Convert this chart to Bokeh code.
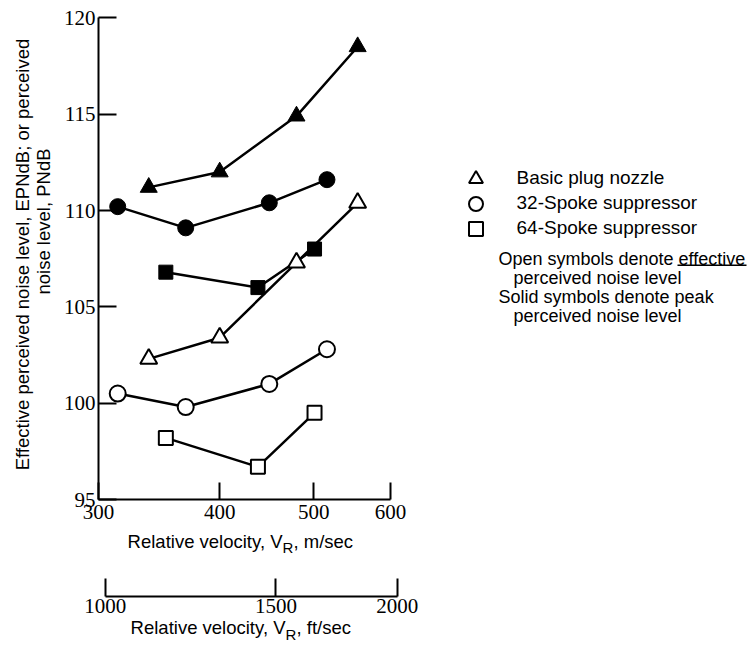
import math

from bokeh.embed import file_html
from bokeh.models import (BasicTickFormatter, BoxAnnotation, FixedTicker, Label,
                          Legend, LegendItem, LinearAxis, LogAxis, LogScale, Range1d)
from bokeh.plotting import figure
from bokeh.resources import INLINE

# Relative velocity (m/sec) and noise levels (EPNdB open, PNdB solid)
vel_basic = [338, 400, 480, 555]
epndb_basic = [102.3, 103.4, 107.3, 110.4]
pndb_basic = [111.2, 112.0, 114.9, 118.5]

vel_32 = [314, 369, 450, 516]
epndb_32 = [100.5, 99.8, 101.0, 102.8]
pndb_32 = [110.2, 109.1, 110.4, 111.6]

vel_64 = [352, 438, 501]
epndb_64 = [98.2, 96.7, 99.5]
pndb_64 = [106.8, 106.0, 108.0]

ms_ticks = [300, 400, 500, 600]
fts_ticks = [1000, 1500, 2000]
db_ticks = [95, 100, 105, 110, 115, 120]

legend_names = ["Basic plug nozzle", "32-Spoke suppressor", "64-Spoke suppressor"]

W, H = 750, 650
X0_PX = 98.0          # pixel where 300 m/sec sits
PX_PER_DECADE = 970.0
Y120_PX = 17.3
PX_PER_DB = 19.27
FT_PER_M = 1 / 0.3048

x_start = 300 * 10 ** (-X0_PX / PX_PER_DECADE)
x_end = 300 * 10 ** ((W - X0_PX) / PX_PER_DECADE)
y_top = 120 + Y120_PX / PX_PER_DB
y_bot = 120 - (H - Y120_PX) / PX_PER_DB

TEXT_FONT = "Liberation Sans"
NUM_FONT = "Liberation Sans Narrow"

p = figure(width=W, height=H, x_axis_type="log", x_axis_location=None,
           y_axis_location=None, x_range=Range1d(x_start, x_end),
           y_range=Range1d(y_bot, y_top), min_border=0, toolbar_location=None,
           output_backend="svg", outline_line_color=None)
p.grid.visible = False
p.background_fill_color = "white"
p.border_fill_color = "white"

p.extra_x_ranges = {"ft": Range1d(x_start * FT_PER_M, x_end * FT_PER_M)}
p.extra_x_scales = {"ft": LogScale()}


def style_axis(ax, tick_in, standoff):
    ax.axis_line_width = 2
    ax.axis_line_color = "black"
    ax.major_tick_line_width = 2
    ax.major_tick_line_color = "black"
    ax.major_tick_in = tick_in
    ax.major_tick_out = 0
    ax.minor_tick_line_color = None
    ax.major_label_text_font = NUM_FONT
    ax.major_label_text_font_size = "21px"
    ax.major_label_text_color = "black"
    ax.major_label_standoff = standoff


yaxis = LinearAxis(ticker=FixedTicker(ticks=db_ticks), bounds=(95, 120),
                   fixed_location=300)
style_axis(yaxis, 18, 3)
p.add_layout(yaxis, "left")

xaxis = LogAxis(ticker=FixedTicker(ticks=ms_ticks), bounds=(300, 600),
                fixed_location=95, formatter=BasicTickFormatter(use_scientific=False))
style_axis(xaxis, 17, 5)
p.add_layout(xaxis, "below")

ft_loc = 120 - (596 - Y120_PX) / PX_PER_DB
ftaxis = LogAxis(x_range_name="ft", ticker=FixedTicker(ticks=fts_ticks),
                 bounds=(1000, 2000), fixed_location=ft_loc,
                 formatter=BasicTickFormatter(use_scientific=False))
style_axis(ftaxis, 18, 2)
p.add_layout(ftaxis, "below")

# connecting lines
for v, d in [(vel_basic, pndb_basic), (vel_32, pndb_32), (vel_64, pndb_64),
             (vel_basic, epndb_basic), (vel_32, epndb_32), (vel_64, epndb_64)]:
    p.line(v, d, line_color="black", line_width=2.5)

# peak (solid) symbols
p.scatter(vel_basic, pndb_basic, marker="triangle", size=17, fill_color="black",
          line_color="black", line_width=1)
p.scatter(vel_32, pndb_32, marker="circle", size=16, fill_color="black",
          line_color="black", line_width=1)
p.scatter(vel_64, pndb_64, marker="square", size=14, fill_color="black",
          line_color="black", line_width=1)

# effective (open) symbols
r_tri = p.scatter(vel_basic, epndb_basic, marker="triangle", size=17,
                  fill_color="white", line_color="black", line_width=2)
r_cir = p.scatter(vel_32, epndb_32, marker="circle", size=16,
                  fill_color="white", line_color="black", line_width=2)
r_sq = p.scatter(vel_64, epndb_64, marker="square", size=14,
                 fill_color="white", line_color="black", line_width=2)

# one single-entry legend per nozzle, so the rows can sit close together
GLYPH = 35
for name, rend, yc in zip(legend_names, [r_tri, r_cir, r_sq], [178, 203, 228]):
    leg = Legend(items=[LegendItem(label=name, renderers=[rend])],
                 location=(475 - GLYPH / 2, H - (yc + GLYPH / 2)),
                 glyph_width=GLYPH, glyph_height=GLYPH, padding=0, margin=0,
                 label_standoff=24, label_text_font=TEXT_FONT,
                 label_text_font_size="19px", label_text_color="black",
                 border_line_color=None, background_fill_alpha=0)
    p.add_layout(leg, "center")


def add_text(text, x, y, size="19px", align="left", baseline="alphabetic", angle=0.0):
    p.add_layout(Label(x=x, y=H - y, x_units="screen", y_units="screen", text=text,
                       text_font=TEXT_FONT, text_font_size=size, text_color="black",
                       text_align=align, text_baseline=baseline, angle=angle))


# notes beside the legend
add_text("Open symbols denote", 498, 258, size="18px")
add_text("effective", 678, 258, size="18px")
add_text("perceived noise level", 513, 277, size="18px")
add_text("Solid symbols denote peak", 498, 296, size="18px")
add_text("perceived noise level", 513, 315, size="18px")
p.add_layout(BoxAnnotation(left=677, right=746, bottom=H - 265.5, top=H - 264,
                           left_units="screen", right_units="screen",
                           top_units="screen", bottom_units="screen",
                           fill_color="black", fill_alpha=1, line_color=None))

# x axis titles with subscript R
add_text("Relative velocity, V", 282, 541, size="18.5px", align="right")
add_text("R", 282, 547, size="15px")
add_text(", m/sec", 293, 541, size="18.5px")
add_text("Relative velocity, V", 285, 627, size="18.5px", align="right")
add_text("R", 285, 634, size="15px")
add_text(", ft/sec", 296, 627, size="18.5px")

# y axis title, two rotated lines
add_text("Effective perceived noise level, EPNdB; or perceived", 22, 254,
         size="18.5px", align="center", baseline="middle", angle=math.pi / 2)
add_text("noise level, PNdB", 43, 221, size="18.5px", align="center",
         baseline="middle", angle=math.pi / 2)

open("out.html", "w").write(file_html(p, INLINE))
